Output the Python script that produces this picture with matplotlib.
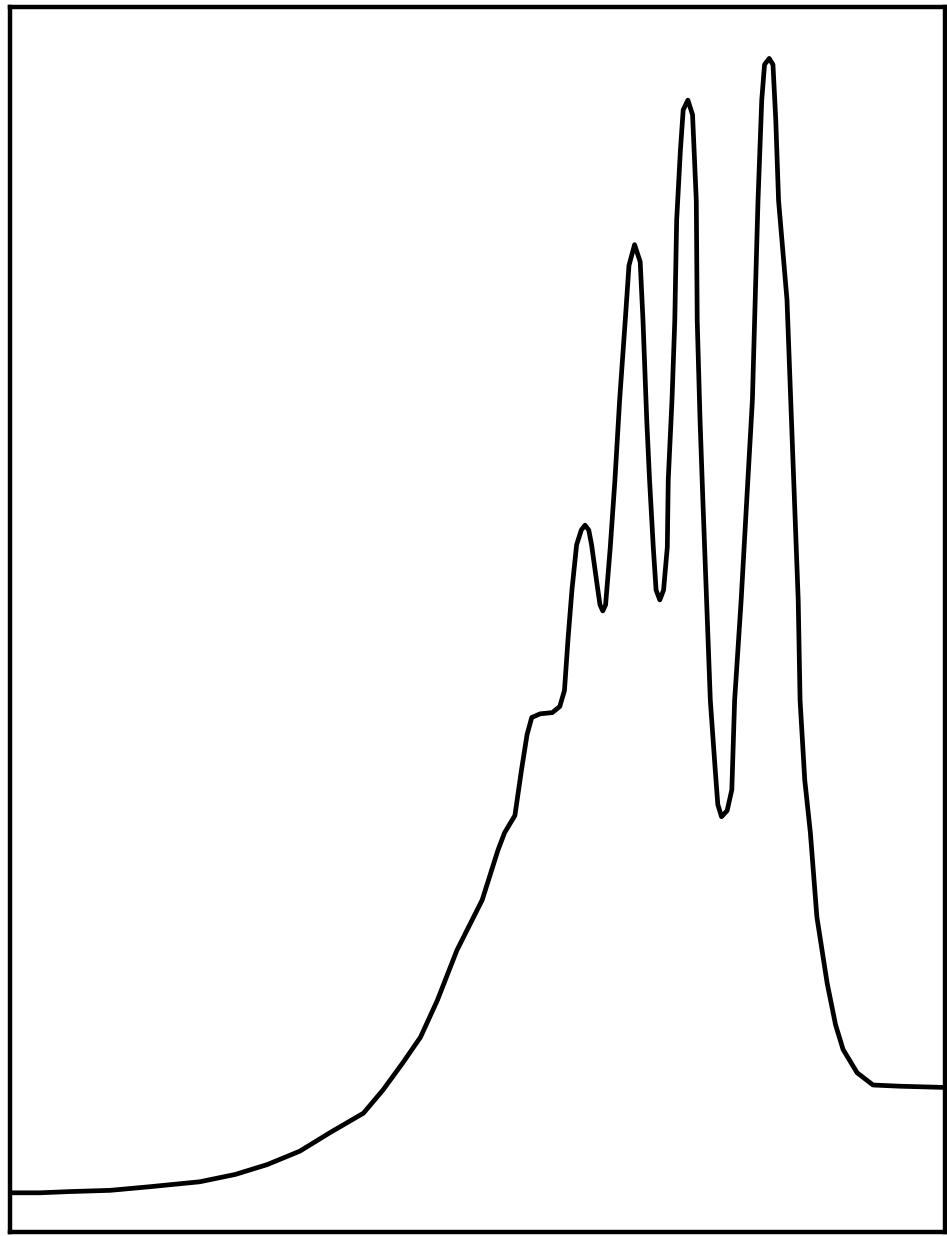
import matplotlib
matplotlib.use("Agg")
import matplotlib.pyplot as plt

FIG_W, FIG_H = 9.47, 12.36
DPI = 100

# recorder trace, both axes in percent of full chart scale
time = [
    0.0, 3.2, 6.4, 10.7, 15.0, 20.3, 24.1, 27.5, 31.0, 34.2,
    37.8, 39.9, 42.0, 43.9, 45.7, 47.8, 50.5, 52.2, 52.9, 54.0,
    54.7, 55.3, 55.8, 56.7, 58.0, 58.8, 59.3, 59.7, 60.1, 60.6,
    61.1, 61.5, 61.9, 62.2, 62.8, 63.1, 63.4, 63.7, 64.2, 64.7,
    65.2, 65.8, 66.2, 66.8, 67.4, 67.7, 68.1, 68.4, 68.8, 69.1,
    69.5, 69.9, 70.3, 70.4, 70.8, 71.1, 71.3, 71.7, 72.0, 72.5,
    73.0, 73.4, 73.5, 73.8, 74.1, 74.5, 74.9, 75.4, 75.7, 76.1,
    76.7, 77.2, 77.5, 78.2, 78.8, 79.4, 79.7, 80.0, 80.4, 80.7,
    81.2, 81.6, 81.9, 82.2, 83.1, 83.7, 84.3, 84.5, 85.0, 85.6,
    86.3, 87.4, 88.3, 89.1, 90.6, 92.3, 95.2, 100.0,
]
signal = [
    3.2, 3.2, 3.3, 3.4, 3.7, 4.1, 4.7, 5.5, 6.6, 8.1,
    9.7, 11.6, 13.8, 15.9, 18.9, 23.0, 27.1, 31.2, 32.6, 34.0,
    37.7, 40.6, 42.0, 42.3, 42.4, 42.9, 44.2, 48.6, 52.4, 56.1,
    57.3, 57.7, 57.3, 56.1, 52.8, 51.2, 50.7, 51.2, 55.9, 61.4,
    67.9, 74.4, 78.9, 80.6, 79.2, 74.4, 66.3, 61.4, 55.9, 52.4,
    51.6, 52.4, 55.9, 61.4, 67.9, 74.4, 82.6, 88.3, 91.6, 92.4,
    91.2, 84.2, 74.4, 66.3, 59.8, 51.6, 43.4, 38.0, 34.9, 33.9,
    34.4, 36.1, 43.4, 51.6, 59.8, 67.9, 76.1, 84.2, 92.4, 95.3,
    95.8, 95.3, 90.8, 84.2, 76.1, 63.8, 51.6, 43.4, 36.9, 32.6,
    25.7, 20.3, 16.9, 14.9, 13.0, 12.0, 11.9, 11.8,
]


def main():
    fig = plt.figure(figsize=(FIG_W, FIG_H), dpi=DPI)
    ax = fig.add_axes([10 / 947, 4 / 1236, 935 / 947, 1225 / 1236])

    ax.plot(time, signal, color='black', linewidth=3.4,
            solid_joinstyle='round', solid_capstyle='round')

    ax.set_xlim(0, 100)
    ax.set_ylim(0, 100)
    ax.set_xticks([])
    ax.set_yticks([])
    for spine in ax.spines.values():
        spine.set_linewidth(3.2)
        spine.set_color('black')

    fig.savefig("out.png", dpi=DPI, facecolor='white')


if __name__ == "__main__":
    main()
